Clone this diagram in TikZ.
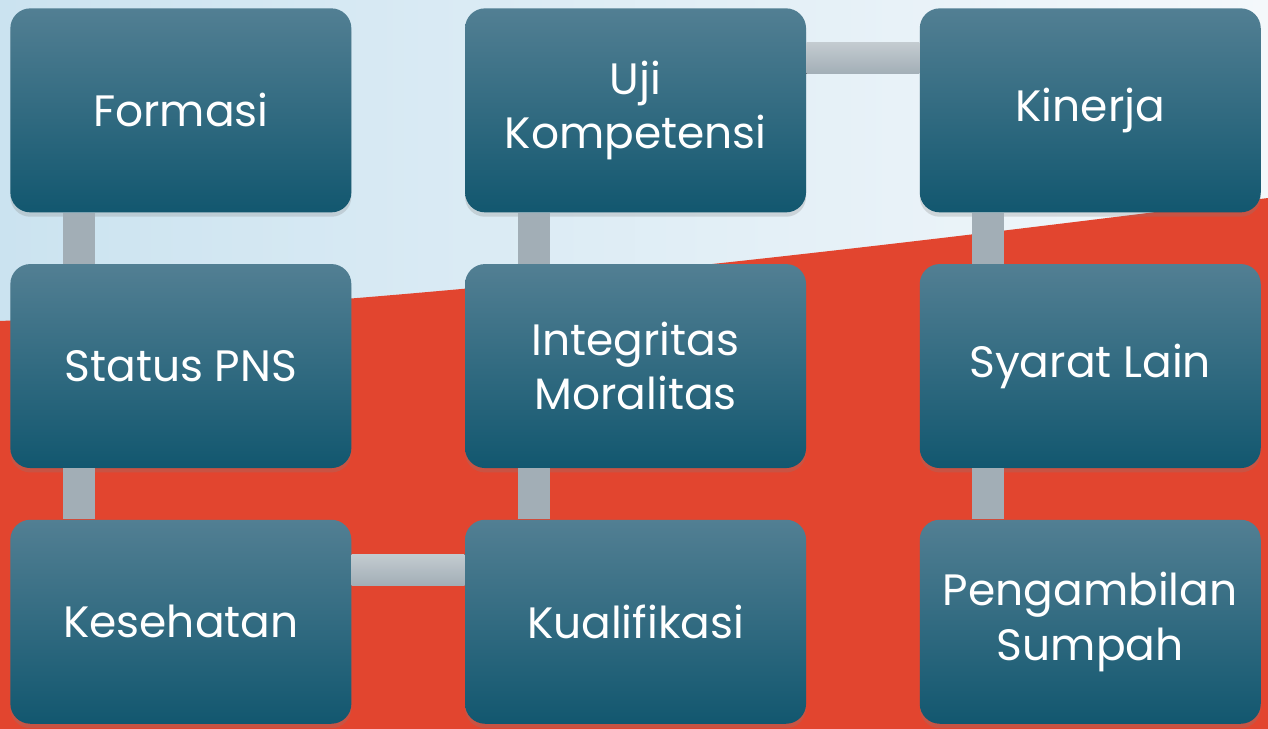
\documentclass[tikz,border=0pt]{standalone}
\usepackage{fontspec}
\setmainfont{Poppins}
\usepackage{tikz}
\usetikzlibrary{positioning,calc,shadows}
\definecolor{boxTop}{HTML}{527F93}
\definecolor{boxBot}{HTML}{12576F}
\definecolor{barGray}{HTML}{A2AEB6}
\definecolor{barLight}{HTML}{C3CBD0}
\definecolor{bgRed}{HTML}{E2452F}
\definecolor{bgBlue}{HTML}{CBE3F0}
\definecolor{bgWhite}{HTML}{F4F8FB}

\begin{document}
\begin{tikzpicture}[
  box/.style={rounded corners=0.4cm,top color=boxTop,bottom color=boxBot,minimum width=6.82cm,minimum height=4.08cm,align=center,text=white,font=\fontsize{25}{31}\selectfont,
    drop shadow={shadow xshift=0pt,shadow yshift=-2.5pt,opacity=0.25}},
  vbar/.style={line width=0.64cm,barGray},
  hbar/.style={top color=barLight,bottom color=barGray}
]
% background
\useasboundingbox (0,0) rectangle (25.36,-14.58);
\shade[left color=bgBlue,right color=bgWhite] (0,0) rectangle (25.36,-14.58);
\fill[bgRed] (0,-6.42) .. controls (8.46,-6.04) and (16.9,-5.02) .. (25.36,-3.96) -- (25.36,-14.58) -- (0,-14.58) -- cycle;

% boxes
\node[box,anchor=north west] (formasi) at (0.2,-0.16) {Formasi};
\node[box,below=1.02cm of formasi] (status) {Status PNS};
\node[box,below=1.02cm of status] (kesehatan) {Kesehatan};
\node[box,right=2.26cm of kesehatan] (kualifikasi) {Kualifikasi};
\node[box,above=1.02cm of kualifikasi] (integritas) {Integritas\\Moralitas};
\node[box,above=1.02cm of integritas] (uji) {Uji\\Kompetensi};
\node[box,right=2.26cm of uji] (kinerja) {Kinerja};
\node[box,below=1.02cm of kinerja] (syarat) {Syarat Lain};
\node[box,below=1.02cm of syarat] (sumpah) {Pengambilan\\Sumpah};

% links
\draw[vbar] ([xshift=1.38cm]formasi.south west) -- ([xshift=1.38cm]status.north west);
\draw[vbar] ([xshift=1.38cm]status.south west) -- ([xshift=1.38cm]kesehatan.north west);
\fill[hbar] ([yshift=-0.7cm]kesehatan.north east) rectangle ([yshift=-1.32cm]kualifikasi.north west);
\draw[vbar] ([xshift=1.38cm]kualifikasi.north west) -- ([xshift=1.38cm]integritas.south west);
\draw[vbar] ([xshift=1.38cm]integritas.north west) -- ([xshift=1.38cm]uji.south west);
\fill[hbar] ([yshift=-0.7cm]uji.north east) rectangle ([yshift=-1.32cm]kinerja.north west);
\draw[vbar] ([xshift=1.38cm]kinerja.south west) -- ([xshift=1.38cm]syarat.north west);
\draw[vbar] ([xshift=1.38cm]syarat.south west) -- ([xshift=1.38cm]sumpah.north west);
\end{tikzpicture}
\end{document}
